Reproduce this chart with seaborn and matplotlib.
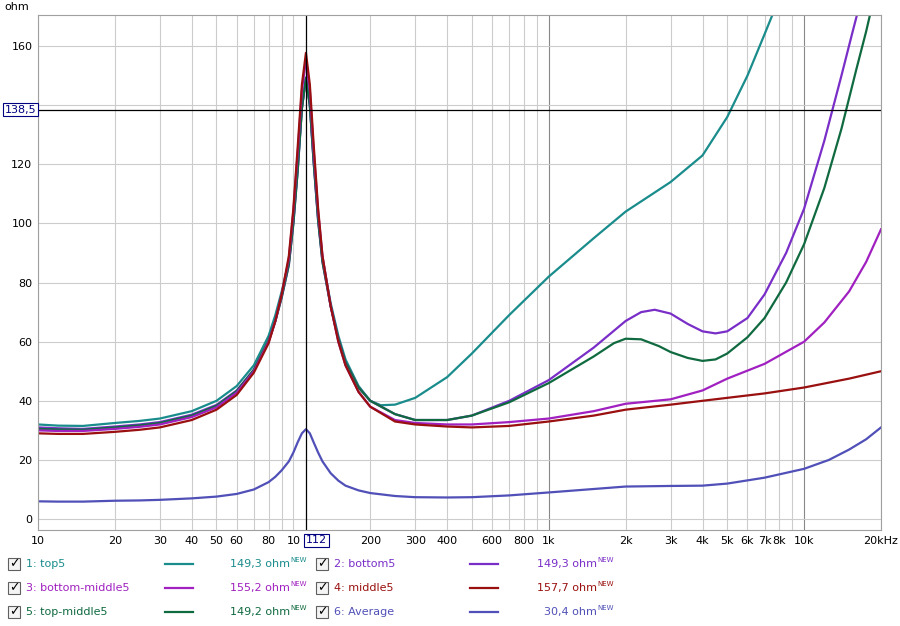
import numpy as np
import pandas as pd
import matplotlib
matplotlib.use("Agg")
import matplotlib.pyplot as plt
import seaborn as sns
from matplotlib.patches import Rectangle

# ---- data ----
f_low = [10, 12, 15, 20, 25, 30, 40, 50, 60, 70, 80, 85, 90, 96, 100, 104, 108, 112, 116, 120, 125, 130, 140, 150, 160, 180, 200]
top5_low = [32, 31.6, 31.5, 32.5, 33.2, 34, 36.5, 40, 45, 52, 62, 69, 77, 87, 101, 119, 139, 149.3, 140, 122, 102, 88, 73, 62, 54, 45, 40]
bot5_low = [31, 30.7, 30.5, 31.3, 32, 32.8, 35.3, 38.6, 43.5, 50.5, 60, 67, 75, 86, 100, 118, 139, 149.3, 140, 121, 101, 87, 72, 61, 53, 44.5, 40]
bm5_low = [30, 29.8, 29.8, 30.5, 31.2, 32, 34.5, 37.8, 42.8, 50, 60, 67, 76, 88, 104, 124, 145, 155.2, 145, 125, 104, 89, 72, 60, 52, 43, 38]
mid5_low = [29, 28.8, 28.8, 29.5, 30.2, 31, 33.5, 37, 42, 49.5, 59.5, 67, 76, 89, 105, 126, 147, 157.7, 147, 127, 105, 89, 72, 60, 52, 43, 38]
tm5_low = [30.5, 30.3, 30.2, 31, 31.7, 32.5, 35, 38.3, 43.3, 50.5, 60.5, 67, 75, 86, 100, 118, 139, 149.2, 140, 121, 101, 87, 72, 61, 53, 44.5, 40]
avg_low = [6, 5.9, 5.9, 6.2, 6.3, 6.5, 7, 7.6, 8.5, 10, 12.5, 14.3, 16.5, 19.5, 22.5, 26, 29, 30.4, 29, 26, 22.5, 19.5, 15.5, 13, 11.3, 9.7, 8.8]

top5_hf = [220, 250, 300, 400, 500, 700, 1000, 1500, 2000, 2500, 3000, 4000, 5000, 6000, 7000, 7800]
top5_hv = [38.5, 38.7, 41, 48, 56, 69, 82, 95, 104, 109.5, 114, 123, 136, 150, 164, 174]
bot5_hf = [250, 300, 400, 500, 700, 1000, 1500, 2000, 2300, 2600, 3000, 3500, 4000, 4500, 5000, 6000, 7000, 8500, 10000, 12000, 14000, 15500, 16500]
bot5_hv = [35.5, 33.5, 33.5, 35, 40, 47, 58, 67, 70, 70.8, 69.5, 66, 63.5, 62.8, 63.5, 68, 76, 90, 105, 128, 150, 165, 174]
tm5_hf = [250, 300, 400, 500, 700, 1000, 1500, 1800, 2000, 2300, 2700, 3000, 3500, 4000, 4500, 5000, 6000, 7000, 8500, 10000, 12000, 14000, 16000, 17500, 18500]
tm5_hv = [35.5, 33.5, 33.5, 35, 39.5, 46, 55, 59.5, 61, 60.8, 58.5, 56.5, 54.5, 53.5, 54, 56, 61.5, 68, 80, 93, 112, 132, 152, 165, 174]
bm5_hf = [250, 300, 400, 500, 700, 1000, 1500, 2000, 3000, 4000, 5000, 7000, 10000, 12000, 15000, 17500, 20000]
bm5_hv = [33.5, 32.5, 32, 32, 32.8, 34, 36.5, 39, 40.5, 43.5, 47.5, 52.5, 60, 66.5, 77, 87, 98]
mid5_hf = [250, 300, 400, 500, 700, 1000, 1500, 2000, 3000, 4000, 5000, 7000, 10000, 15000, 20000]
mid5_hv = [33, 32, 31.3, 31, 31.5, 33, 35, 37, 38.7, 40, 41, 42.5, 44.5, 47.5, 50]
avg_hf = [250, 300, 400, 500, 700, 1000, 2000, 3000, 4000, 5000, 7000, 10000, 12500, 15000, 17500, 20000]
avg_hv = [7.8, 7.4, 7.3, 7.4, 8, 9, 11, 11.2, 11.3, 12, 14, 17, 20, 23.5, 27, 31]

names = ["1: top5", "2: bottom5", "3: bottom-middle5", "4: middle5", "5: top-middle5", "6: Average"]
values = ["149,3 ohm", "149,3 ohm", "155,2 ohm", "157,7 ohm", "149,2 ohm", "30,4 ohm"]
colors = ["#1a8c8c", "#7a2ec8", "#a020c0", "#9a1010", "#106a40", "#5050b8"]

x_ticks = [10, 20, 30, 40, 50, 60, 80, 100, 200, 300, 400, 600, 800, 1000, 2000, 3000, 4000, 5000, 6000, 7000, 8000, 10000, 20000]
x_labels = ["10", "20", "30", "40", "50", "60", "80", "10", "200", "300", "400", "600", "800", "1k", "2k", "3k", "4k", "5k", "6k", "7k", "8k", "10k", "20kHz"]
y_ticks = [0, 20, 40, 60, 80, 100, 120, 160]

series = [
    (f_low + top5_hf, top5_low + top5_hv),
    (f_low + bot5_hf, bot5_low + bot5_hv),
    (f_low + bm5_hf, bm5_low + bm5_hv),
    (f_low + mid5_hf, mid5_low + mid5_hv),
    (f_low + tm5_hf, tm5_low + tm5_hv),
    (f_low + avg_hf, avg_low + avg_hv),
]
rows = []
for n, (fx, vy) in zip(names, series):
    for a, b in zip(fx, vy):
        rows.append((n, a, b))
df = pd.DataFrame(rows, columns=["name", "f", "ohm"])

fig = plt.figure(figsize=(9, 6.26), dpi=100)
ax = fig.add_axes([38/900, 96/626, 843/900, 515/626])
ax.set_xscale("log")
ax.set_xlim(10, 20000)
ax.set_ylim(-3.7, 170.5)

for d in [10, 100, 1000, 10000]:
    for m in range(1, 10):
        v = d * m
        if 10 <= v <= 20000:
            c = "#888888" if m == 1 and d in (1000, 10000) else "#cccccc"
            ax.axvline(v, color=c, lw=0.8, zorder=0)
for y in range(0, 180, 20):
    ax.axhline(y, color="#cccccc", lw=0.8, zorder=0)

order = [5, 0, 1, 4, 2, 3]
for i in order:
    sub = df[df.name == names[i]]
    sns.lineplot(data=sub, x="f", y="ohm", color=colors[i], lw=1.6, ax=ax, sort=False, legend=False)

ax.axvline(112, color="black", lw=0.9)
ax.axhline(138.5, color="black", lw=0.9)

ax.set_xticks(x_ticks)
ax.set_xticklabels(x_labels, fontsize=8)
ax.set_xticks([], minor=True)
ax.set_yticks(y_ticks)
ax.set_yticklabels([str(t) for t in y_ticks], fontsize=8)
ax.tick_params(length=0, pad=4)
ax.set_xlabel("")
ax.set_ylabel("")
for s in ax.spines.values():
    s.set_color("#a0a0a0")
ax.text(-0.01, 1.005, "ohm", transform=ax.transAxes, ha="right", va="bottom", fontsize=8)
ax.text(112, -5.5, "112", ha="left", va="top", fontsize=8, color="#000080", zorder=10,
        bbox=dict(boxstyle="square,pad=0.15", fc="white", ec="#000080", lw=0.8))
ax.text(-0.002, 138.5, "138,5", transform=ax.get_yaxis_transform(), ha="right", va="center", fontsize=8,
        color="#000080", bbox=dict(boxstyle="square,pad=0.15", fc="white", ec="#000080", lw=0.8))

cols = [(8, 165, 290), (316, 470, 597)]
rows_y = [564, 588, 612]
for i, n in enumerate(names):
    c, r = i % 2, i // 2
    bx, lx, vx = cols[c]
    yy = 1 - rows_y[r] / 626
    fig.patches.append(Rectangle((bx/900, yy - 6/626), 12/900, 12/626, transform=fig.transFigure,
                                 fc="#f4f4f4", ec="#606060", lw=0.8))
    fig.text((bx + 6)/900, yy, "✓", ha="center", va="center", fontsize=9, fontweight="bold")
    fig.text((bx + 18)/900, yy, n, ha="left", va="center", fontsize=8, color=colors[i])
    fig.lines.append(plt.Line2D([lx/900, (lx + 28)/900], [yy, yy], transform=fig.transFigure, color=colors[i], lw=1.6))
    fig.text(vx/900, yy, values[i], ha="right", va="center", fontsize=8, color=colors[i])
    fig.text(vx/900, yy + 4/626, "NEW", ha="left", va="center", fontsize=5, color=colors[i])

fig.savefig("out.png", dpi=100)
